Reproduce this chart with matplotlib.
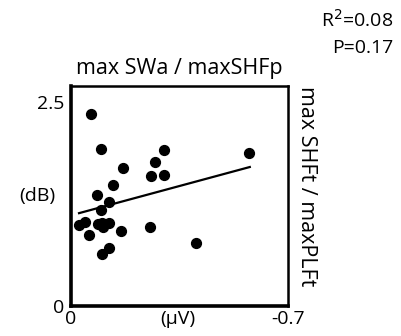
import matplotlib
matplotlib.use("Agg")
from matplotlib import pyplot as plt

plt.rcParams['font.family'] = ['Open Sans', 'DejaVu Sans']

# values
x_vals = [-0.064, -0.097, -0.299, -0.575, -0.272, -0.167, -0.257, -0.299,
          -0.136, -0.084, -0.122, -0.096, -0.026, -0.044, -0.088, -0.104,
          -0.122, -0.099, -0.057, -0.160, -0.256, -0.404, -0.122, -0.099]
y_vals = [2.35, 1.915, 1.91, 1.87, 1.756, 1.69, 1.59, 1.60,
          1.48, 1.36, 1.27, 1.17, 0.99, 1.03, 1.00, 0.97,
          1.01, 1.02, 0.87, 0.915, 0.97, 0.776, 0.71, 0.64]
fit_x = [-0.026, -0.577]
fit_y = [1.136, 1.70]

fs = 14

fig = plt.figure(figsize=(4.01, 3.36), dpi=100)
ax = fig.add_axes([0.177, 0.089, 0.541, 0.655])

ax.scatter(x_vals, y_vals, s=50, color='black', zorder=3)
ax.plot(fit_x, fit_y, color='black', lw=1.6)

ax.set_xlim(0, -0.7)
ax.set_ylim(0, 2.69)

for side in ['left', 'bottom']:
    ax.spines[side].set_linewidth(2.6)
for side in ['top', 'right']:
    ax.spines[side].set_linewidth(1.8)

ax.set_xticks([0, -0.345, -0.7])
ax.set_xticklabels(['0', '(\u03bcV)', '-0.7'], fontsize=fs)
ax.set_yticks([0, 2.5])
ax.set_yticklabels(['0', '2.5'], fontsize=fs)
ax.tick_params(axis='x', length=0, pad=3)
ax.tick_params(axis='y', length=0, pad=5)

ax.text(-0.155, 0.5, '(dB)', transform=ax.transAxes, fontsize=fs,
        ha='center', va='center')
ax.set_title('max SWa / maxSHFp', fontsize=15.5, pad=9)
ax.text(1.035, 1.0, 'max SHFt / maxPLFt', transform=ax.transAxes,
        rotation=-90, fontsize=15.5, ha='left', va='top')

fig.text(0.98, 0.94, 'R$^2$=0.08', fontsize=fs, ha='right', va='center')
fig.text(0.98, 0.857, 'P=0.17', fontsize=fs, ha='right', va='center')

fig.savefig('out.png', dpi=100)
